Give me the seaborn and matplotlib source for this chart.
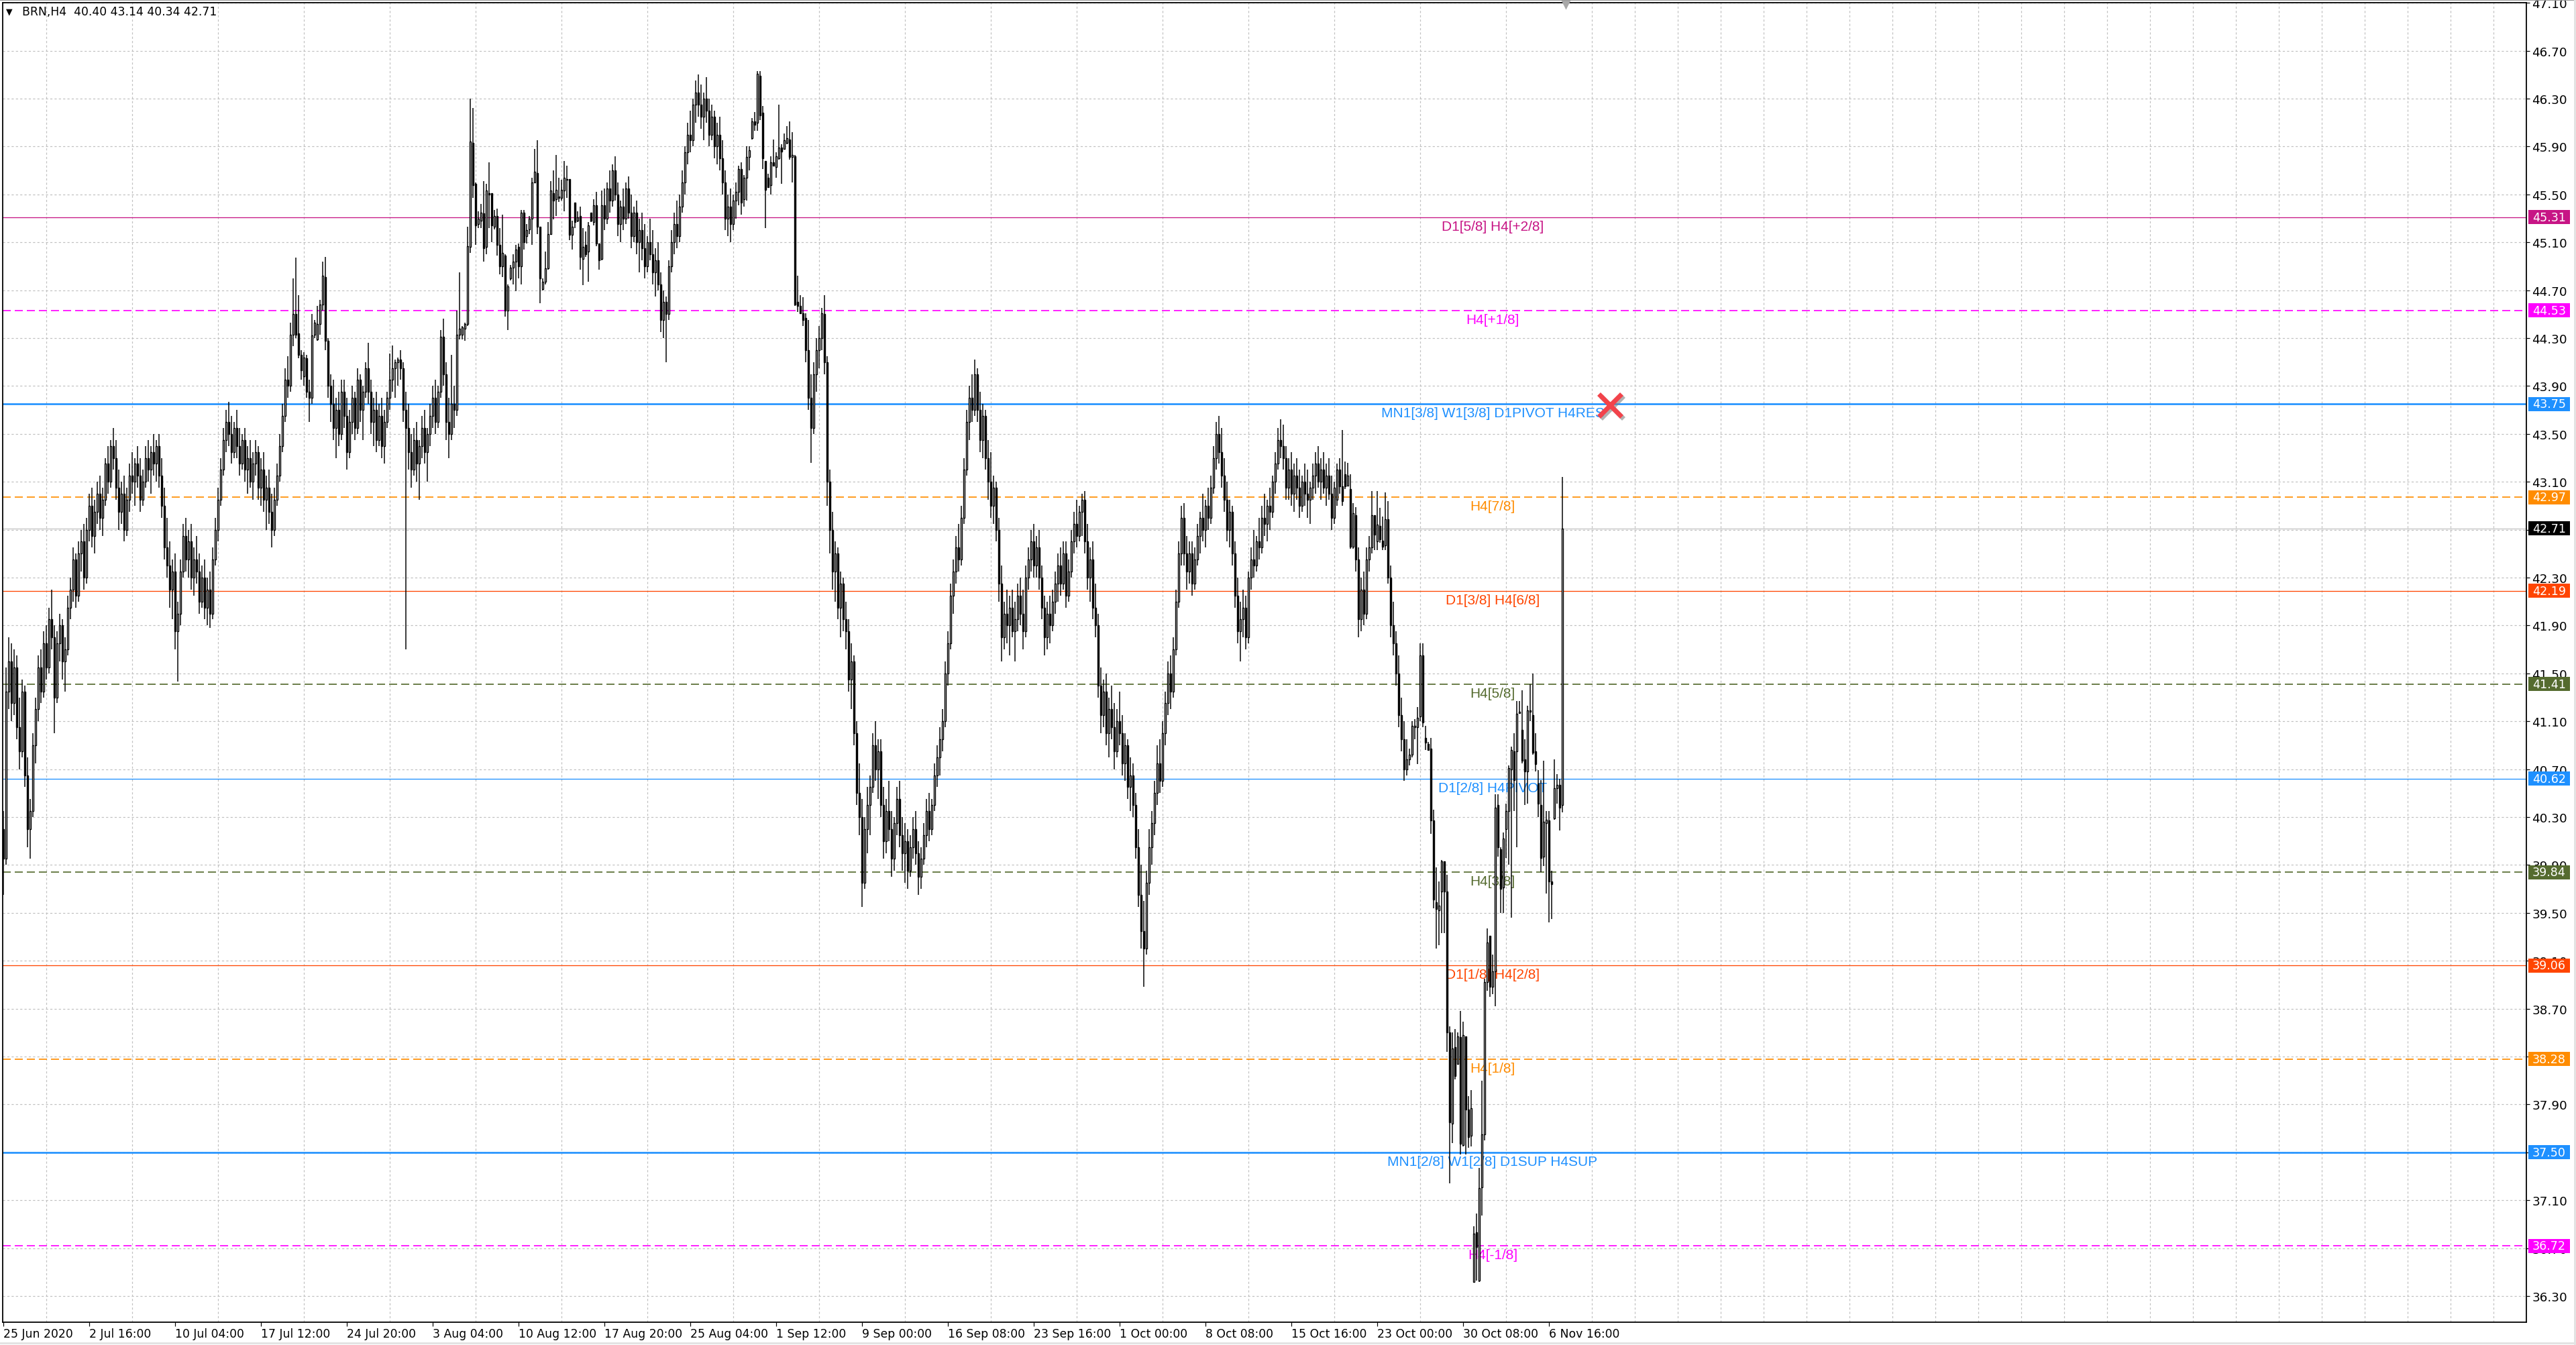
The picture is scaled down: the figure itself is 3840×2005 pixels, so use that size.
import matplotlib
matplotlib.use('Agg')
import numpy as np
import matplotlib.pyplot as plt
import matplotlib.transforms as mtransforms
import matplotlib.patheffects as pe
from matplotlib import font_manager
from matplotlib.patches import Rectangle
from matplotlib.lines import Line2D
import seaborn as sns

# ---------------- data (BRN, H4 bars) ----------------
opens = [
    40.20, 39.95, 41.35, 41.60, 41.25, 41.55, 41.05, 40.85, 41.35, 40.65,
    40.20, 40.35, 40.90, 41.20, 41.55, 41.35, 41.75, 41.55, 41.95, 41.80,
    41.30, 41.75, 41.90, 41.60, 41.70, 42.05, 42.20, 42.45, 42.15, 42.50,
    42.60, 42.30, 42.70, 42.90, 42.65, 42.85, 43.00, 42.80, 42.95, 43.25,
    43.10, 43.40, 43.30, 43.05, 42.85, 43.00, 42.70, 42.95, 43.15, 43.10,
    43.25, 43.15, 42.95, 43.10, 43.30, 43.20, 43.35, 43.25, 43.40, 43.15,
    42.90, 42.55, 42.40, 42.20, 42.35, 41.85, 42.00, 42.35, 42.65, 42.45,
    42.60, 42.30, 42.45, 42.35, 42.10, 42.30, 42.05, 42.20, 42.00, 42.45,
    42.70, 42.95, 43.20, 43.45, 43.60, 43.50, 43.35, 43.55, 43.40, 43.25,
    43.45, 43.20, 43.30, 43.10, 43.25, 43.35, 43.05, 43.20, 42.95, 43.05,
    42.85, 42.70, 42.95, 43.15, 43.40, 43.65, 43.95, 43.90, 44.33, 44.50,
    44.34, 44.16, 43.98, 44.13, 43.85, 43.80, 44.33, 44.29, 44.42, 44.58,
    44.81, 44.28, 43.90, 43.75, 43.55, 43.70, 43.50, 43.85, 43.65, 43.35,
    43.60, 43.80, 43.55, 43.95, 43.70, 43.85, 44.05, 43.85, 43.60, 43.70,
    43.45, 43.65, 43.40, 43.60, 43.80, 43.95, 44.05, 44.10, 44.12, 44.05,
    43.70, 43.55, 43.35, 43.20, 43.45, 43.25, 43.40, 43.55, 43.35, 43.50,
    43.65, 43.80, 43.60, 43.85, 44.31, 44.00, 43.60, 43.50, 43.75, 43.70,
    44.33, 44.33, 44.38, 44.42, 45.06, 45.93, 45.59, 45.25, 45.28, 45.34,
    45.06, 45.51, 45.51, 45.23, 45.32, 45.08, 44.90, 44.99, 44.53, 44.80,
    44.89, 44.94, 45.06, 44.90, 45.35, 45.15, 45.21, 45.30, 45.60, 45.68,
    45.23, 44.71, 44.77, 44.88, 45.17, 45.51, 45.46, 45.48, 45.47, 45.53,
    45.63, 45.63, 45.16, 45.43, 45.28, 45.32, 44.96, 45.08, 45.02, 45.35,
    45.27, 45.41, 45.09, 44.96, 45.41, 45.30, 45.55, 45.45, 45.70, 45.50,
    45.25, 45.40, 45.30, 45.55, 45.35, 45.15, 45.35, 45.10, 45.20, 45.05,
    44.90, 45.10, 45.00, 44.85, 44.95, 44.75, 44.45, 44.60, 44.50, 44.90,
    45.10, 45.25, 45.15, 45.40, 45.60, 45.85, 46.00, 45.95, 46.25, 46.35,
    46.25, 46.15, 46.30, 46.20, 46.00, 46.15, 45.90, 46.00, 45.80, 45.60,
    45.30, 45.40, 45.25, 45.45, 45.52, 45.71, 45.46, 45.64, 45.81, 45.97,
    46.11, 46.10, 46.49, 46.18, 45.78, 45.64, 45.58, 45.77, 45.73, 45.80,
    45.89, 45.88, 45.93, 45.96, 45.81, 45.82, 44.60, 44.57, 44.51, 44.47,
    44.20, 43.80, 43.55, 44.00, 44.20, 44.30, 44.50, 44.10, 43.10, 42.70,
    42.35, 42.50, 42.05, 42.25, 41.95, 41.85, 41.45, 41.60, 41.00, 40.50,
    40.30, 39.75, 40.20, 40.40, 40.55, 40.90, 40.70, 40.85, 40.40, 40.10,
    40.35, 40.20, 39.95, 40.25, 40.45, 40.15, 40.00, 40.10, 39.85, 40.05,
    40.20, 40.00, 39.80, 39.95, 40.15, 40.35, 40.20, 40.40, 40.65, 40.80,
    40.95, 41.10, 41.50, 41.75, 42.15, 42.35, 42.55, 42.45, 42.80, 43.20,
    43.60, 43.80, 43.70, 44.00, 43.70, 43.45, 43.65, 43.30, 43.10, 42.90,
    43.05, 42.70, 42.25, 41.80, 42.00, 41.90, 42.05, 41.85, 41.95, 42.15,
    42.00, 41.85, 42.30, 42.45, 42.60, 42.40, 42.55, 42.30, 42.05, 41.80,
    42.00, 41.90, 42.10, 42.25, 42.40, 42.25, 42.50, 42.15, 42.35, 42.60,
    42.75, 42.65, 42.85, 42.95, 42.60, 42.30, 42.45, 42.05, 41.90, 41.40,
    41.15, 41.35, 41.00, 41.20, 41.05, 40.85, 41.10, 41.00, 40.75, 40.90,
    40.55, 40.65, 40.40, 40.05, 39.65, 39.35, 39.20, 39.75, 40.05, 40.25,
    40.50, 40.75, 40.60, 41.00, 41.25, 41.50, 41.35, 41.70, 42.10, 42.50,
    42.80, 42.50, 42.35, 42.50, 42.25, 42.45, 42.65, 42.80, 42.70, 42.90,
    42.80, 43.05, 43.30, 43.50, 43.35, 43.15, 42.95, 42.70, 42.85, 42.50,
    42.15, 41.85, 41.95, 42.05, 41.80, 42.30, 42.45, 42.40, 42.60, 42.55,
    42.80, 42.75, 42.90, 42.85, 43.10, 43.25, 43.45, 43.40, 43.30, 43.05,
    43.20, 43.00, 43.15, 43.05, 42.90, 43.10, 43.00, 42.95, 43.05, 43.15,
    43.25, 43.10, 43.20, 43.05, 43.15, 43.00, 42.80, 42.95, 43.20, 43.06,
    43.16, 43.07, 43.04, 42.56, 42.82, 42.45, 41.95, 42.20, 42.00, 42.45,
    42.55, 42.82, 42.60, 42.73, 42.61, 42.57, 42.79, 42.30, 41.90, 41.75,
    41.50, 41.15, 40.95, 40.70, 40.78, 40.82, 41.05, 41.05, 41.14, 41.65,
    40.96, 40.91, 40.87, 40.27, 39.59, 39.52, 39.68, 39.93, 39.68, 38.50,
    37.74, 38.38, 38.24, 38.46, 37.56, 38.47, 37.86, 37.64, 36.42, 36.83,
    36.43, 37.21, 37.65, 38.92, 39.31, 38.88, 39.01, 40.40, 40.03, 39.71,
    40.20, 40.35, 40.70, 40.85, 40.85, 41.17, 41.03, 40.78, 40.68, 41.19,
    41.15, 40.85, 40.58, 40.40, 39.97, 40.25, 40.27, 39.76, 40.29, 40.54,
    40.57, 40.40,
]
highs = [
    40.35, 41.55, 41.80, 41.75, 41.70, 41.65, 41.30, 41.45, 41.40, 40.80,
    40.45, 41.00, 41.30, 41.65, 41.70, 41.85, 41.90, 42.05, 42.20, 41.90,
    41.85, 42.00, 41.95, 41.80, 42.15, 42.30, 42.55, 42.50, 42.60, 42.70,
    42.75, 42.80, 43.00, 43.05, 42.95, 43.10, 43.15, 43.05, 43.30, 43.40,
    43.45, 43.55, 43.45, 43.20, 43.10, 43.15, 43.05, 43.25, 43.35, 43.30,
    43.40, 43.30, 43.20, 43.40, 43.45, 43.40, 43.50, 43.45, 43.50, 43.30,
    43.05, 42.80, 42.60, 42.45, 42.50, 42.10, 42.45, 42.75, 42.80, 42.70,
    42.75, 42.55, 42.65, 42.50, 42.40, 42.45, 42.30, 42.35, 42.55, 42.80,
    43.05, 43.30, 43.55, 43.70, 43.77, 43.65, 43.60, 43.70, 43.55, 43.50,
    43.55, 43.40, 43.45, 43.35, 43.45, 43.40, 43.30, 43.35, 43.15, 43.20,
    43.00, 43.05, 43.25, 43.50, 43.75, 44.05, 44.15, 44.43, 44.80, 44.97,
    44.66, 44.20, 44.18, 44.16, 43.95, 44.50, 44.45, 44.57, 44.62, 44.94,
    44.98, 44.30, 44.00, 43.95, 43.80, 43.85, 43.95, 43.95, 43.80, 43.70,
    43.90, 43.85, 44.05, 44.00, 43.90, 44.10, 44.26, 43.95, 43.80, 43.85,
    43.75, 43.80, 43.70, 43.85, 44.17, 44.24, 44.12, 44.14, 44.20, 44.10,
    43.85, 43.75, 43.50, 43.55, 43.60, 43.45, 43.65, 43.70, 43.55, 43.75,
    43.90, 43.95, 43.90, 44.37, 44.46, 44.10, 43.80, 44.16, 43.90, 44.53,
    44.85, 44.40, 44.43, 45.23, 46.30, 46.22, 45.60, 45.36, 45.42, 45.61,
    45.59, 45.77, 45.51, 45.37, 45.38, 45.22, 45.33, 45.00, 44.75, 44.91,
    45.00, 45.08, 45.09, 45.37, 45.37, 45.25, 45.32, 45.64, 45.88, 45.95,
    45.23, 44.80, 45.02, 45.27, 45.61, 45.70, 45.83, 45.64, 45.62, 45.78,
    45.74, 45.63, 45.28, 45.43, 45.36, 45.40, 45.22, 45.19, 45.27, 45.35,
    45.46, 45.52, 45.09, 45.53, 45.55, 45.60, 45.70, 45.75, 45.82, 45.60,
    45.45, 45.55, 45.60, 45.65, 45.50, 45.40, 45.45, 45.30, 45.35, 45.25,
    45.15, 45.30, 45.20, 45.05, 45.10, 44.85, 44.70, 44.65, 44.95, 45.20,
    45.35, 45.45, 45.50, 45.70, 45.90, 46.10, 46.20, 46.30, 46.45, 46.50,
    46.42, 46.35, 46.48, 46.30, 46.25, 46.20, 46.10, 46.15, 45.95, 45.70,
    45.50, 45.55, 45.50, 45.60, 45.74, 45.77, 45.66, 45.90, 45.90, 46.14,
    46.19, 46.53, 46.53, 46.24, 45.78, 45.67, 45.82, 45.96, 45.85, 46.25,
    45.92, 46.01, 46.07, 46.11, 46.02, 45.83, 44.82, 44.66, 44.64, 44.51,
    44.45, 44.00, 44.10, 44.30, 44.40, 44.55, 44.66, 44.15, 43.20, 42.85,
    42.60, 42.55, 42.35, 42.30, 42.10, 41.95, 41.75, 41.65, 41.10, 40.75,
    40.45, 40.30, 40.55, 40.65, 41.00, 41.10, 40.95, 40.95, 40.55, 40.45,
    40.60, 40.35, 40.30, 40.55, 40.60, 40.30, 40.25, 40.20, 40.15, 40.30,
    40.35, 40.10, 40.05, 40.25, 40.45, 40.50, 40.45, 40.75, 40.90, 41.05,
    41.20, 41.60, 41.85, 42.25, 42.45, 42.65, 42.75, 42.90, 43.30, 43.70,
    43.90, 44.00, 44.12, 44.05, 43.85, 43.75, 43.70, 43.45, 43.35, 43.15,
    43.10, 42.80, 42.40, 42.10, 42.20, 42.15, 42.20, 42.10, 42.25, 42.30,
    42.20, 42.40, 42.55, 42.70, 42.75, 42.65, 42.70, 42.40, 42.15, 42.10,
    42.15, 42.20, 42.35, 42.50, 42.55, 42.60, 42.60, 42.45, 42.70, 42.85,
    42.95, 42.90, 43.00, 43.02, 42.75, 42.55, 42.60, 42.25, 42.00, 41.55,
    41.45, 41.50, 41.30, 41.40, 41.25, 41.20, 41.35, 41.15, 41.00, 40.95,
    40.80, 40.75, 40.50, 40.20, 39.90, 39.60, 39.85, 40.20, 40.35, 40.60,
    40.90, 40.95, 41.10, 41.35, 41.60, 41.65, 41.80, 42.20, 42.60, 42.90,
    42.92, 42.65, 42.60, 42.60, 42.55, 42.75, 42.85, 43.00, 42.95, 43.05,
    43.15, 43.40, 43.60, 43.65, 43.55, 43.30, 43.10, 42.95, 42.90, 42.60,
    42.30, 42.10, 42.20, 42.15, 42.35, 42.55, 42.70, 42.65, 42.80, 42.90,
    43.00, 42.95, 43.05, 43.15, 43.35, 43.55, 43.62, 43.58, 43.40, 43.30,
    43.35, 43.25, 43.30, 43.20, 43.15, 43.25, 43.20, 43.10, 43.25, 43.35,
    43.40, 43.30, 43.35, 43.25, 43.30, 43.15, 43.10, 43.25, 43.30, 43.53,
    43.27, 43.26, 43.16, 42.92, 42.89, 42.55, 42.30, 42.35, 42.55, 42.65,
    43.02, 42.82, 43.02, 42.88, 42.81, 43.01, 42.94, 42.40, 42.10, 41.85,
    41.65, 41.30, 41.10, 40.95, 40.87, 41.10, 41.12, 41.22, 41.75, 41.75,
    41.06, 40.93, 40.96, 40.36, 39.88, 39.76, 39.94, 39.93, 39.82, 38.55,
    38.50, 38.53, 38.50, 38.68, 38.59, 38.47, 37.97, 38.02, 36.88, 36.99,
    37.37, 38.10, 38.95, 39.37, 39.31, 39.15, 40.49, 40.49, 40.05, 40.17,
    40.41, 40.73, 40.89, 41.00, 41.27, 41.27, 41.36, 40.95, 41.23, 41.41,
    41.50, 41.00, 40.69, 40.61, 40.77, 40.35, 40.35, 39.85, 40.78, 40.66,
    40.62, 43.14,
]
lows = [
    39.65, 39.90, 41.20, 41.10, 41.15, 40.95, 40.70, 40.80, 40.55, 40.05,
    39.95, 40.30, 40.75, 41.10, 41.25, 41.30, 41.45, 41.50, 41.70, 41.00,
    41.25, 41.60, 41.45, 41.35, 41.65, 41.95, 42.10, 42.05, 42.10, 42.35,
    42.20, 42.25, 42.60, 42.55, 42.50, 42.75, 42.70, 42.65, 42.90, 43.00,
    43.05, 43.20, 42.95, 42.70, 42.75, 42.60, 42.65, 42.85, 43.00, 42.90,
    43.05, 42.85, 42.90, 43.05, 43.10, 43.00, 43.15, 43.10, 43.05, 42.80,
    42.45, 42.30, 42.05, 41.95, 41.70, 41.43, 41.90, 42.30, 42.35, 42.30,
    42.20, 42.15, 42.25, 42.00, 42.05, 41.95, 41.90, 41.88, 41.95, 42.40,
    42.60, 42.90, 43.15, 43.35, 43.40, 43.25, 43.30, 43.30, 43.15, 43.20,
    43.10, 43.00, 43.05, 42.95, 43.15, 42.95, 42.90, 42.85, 42.70, 42.75,
    42.55, 42.65, 42.90, 43.10, 43.35, 43.60, 43.80, 43.85, 44.23, 44.30,
    44.13, 43.95, 43.90, 43.80, 43.60, 43.75, 44.30, 44.28, 44.33, 44.53,
    44.20, 43.80, 43.60, 43.45, 43.30, 43.40, 43.45, 43.55, 43.20, 43.30,
    43.50, 43.45, 43.50, 43.60, 43.45, 43.80, 43.75, 43.50, 43.40, 43.35,
    43.40, 43.30, 43.25, 43.55, 43.70, 43.85, 43.80, 43.90, 43.95, 43.60,
    41.70, 43.20, 43.05, 43.15, 43.10, 42.95, 43.30, 43.25, 43.10, 43.40,
    43.55, 43.50, 43.55, 43.80, 43.90, 43.45, 43.30, 43.45, 43.55, 43.65,
    44.29, 44.29, 44.28, 44.40, 45.01, 45.47, 45.08, 45.22, 45.22, 44.94,
    45.00, 45.22, 45.10, 45.21, 44.99, 44.83, 44.81, 44.48, 44.37, 44.78,
    44.75, 44.69, 44.80, 44.75, 45.04, 45.09, 45.17, 45.08, 45.60, 45.17,
    44.59, 44.70, 44.75, 44.87, 45.16, 45.29, 45.32, 45.44, 45.45, 45.36,
    45.47, 45.12, 45.04, 45.22, 45.27, 44.87, 44.74, 44.98, 44.77, 45.27,
    45.24, 45.07, 44.87, 44.95, 45.20, 45.25, 45.35, 45.40, 45.45, 45.15,
    45.10, 45.20, 45.25, 45.30, 45.05, 45.10, 45.00, 44.85, 44.95, 44.80,
    44.85, 44.95, 44.75, 44.65, 44.70, 44.35, 44.30, 44.10, 44.45, 44.85,
    45.00, 45.05, 45.10, 45.35, 45.50, 45.75, 45.85, 45.90, 46.10, 46.15,
    46.05, 45.95, 46.10, 45.90, 45.95, 45.80, 45.75, 45.70, 45.50, 45.20,
    45.15, 45.10, 45.20, 45.30, 45.41, 45.33, 45.40, 45.45, 45.70, 45.96,
    46.03, 46.03, 46.12, 45.71, 45.22, 45.56, 45.50, 45.74, 45.64, 45.79,
    45.59, 45.88, 45.92, 45.79, 45.60, 44.57, 44.52, 44.50, 44.40, 44.10,
    43.70, 43.26, 43.50, 43.85, 44.05, 44.20, 44.00, 42.90, 42.50, 42.20,
    42.10, 41.95, 41.80, 41.85, 41.70, 41.35, 41.20, 40.90, 40.40, 40.15,
    39.55, 39.70, 40.00, 40.15, 40.50, 40.60, 40.45, 40.30, 39.95, 40.00,
    40.10, 39.80, 39.85, 40.15, 40.05, 39.85, 39.75, 39.70, 39.80, 39.95,
    39.90, 39.65, 39.70, 39.90, 40.05, 40.10, 40.15, 40.35, 40.55, 40.65,
    40.85, 41.05, 41.40, 41.70, 42.00, 42.25, 42.35, 42.40, 42.75, 43.15,
    43.45, 43.60, 43.65, 43.60, 43.35, 43.30, 43.20, 42.95, 42.80, 42.75,
    42.60, 42.10, 41.60, 41.70, 41.75, 41.65, 41.80, 41.60, 41.85, 41.90,
    41.70, 41.80, 42.20, 42.35, 42.30, 42.30, 42.20, 41.95, 41.65, 41.70,
    41.75, 41.85, 42.00, 42.10, 42.15, 42.20, 42.05, 42.10, 42.30, 42.50,
    42.55, 42.60, 42.65, 42.50, 42.20, 42.10, 41.95, 41.80, 41.30, 41.00,
    41.05, 40.90, 40.80, 40.95, 40.70, 40.80, 40.90, 40.65, 40.60, 40.45,
    40.35, 40.30, 39.95, 39.55, 39.20, 38.88, 39.15, 39.65, 39.90, 40.15,
    40.40, 40.50, 40.55, 40.90, 41.15, 41.20, 41.30, 41.65, 42.05, 42.40,
    42.40, 42.20, 42.25, 42.15, 42.20, 42.40, 42.50, 42.60, 42.55, 42.70,
    42.75, 43.00, 43.20, 43.25, 43.05, 42.85, 42.60, 42.55, 42.40, 42.05,
    41.75, 41.60, 41.80, 41.70, 41.75, 42.20, 42.30, 42.35, 42.45, 42.50,
    42.65, 42.60, 42.70, 42.80, 43.00, 43.20, 43.30, 43.20, 42.95, 42.95,
    42.90, 42.85, 42.95, 42.80, 42.85, 42.90, 42.80, 42.75, 42.95, 43.00,
    43.05, 42.95, 43.00, 42.90, 42.95, 42.70, 42.75, 42.90, 43.00, 42.90,
    43.04, 43.06, 42.54, 42.54, 42.35, 41.80, 41.85, 41.90, 41.95, 42.35,
    42.50, 42.53, 42.53, 42.59, 42.53, 42.53, 42.25, 41.80, 41.65, 41.40,
    41.05, 40.85, 40.60, 40.65, 40.73, 40.80, 40.95, 40.74, 41.10, 41.05,
    40.86, 40.86, 40.16, 39.54, 39.20, 39.23, 39.33, 39.33, 38.34, 37.24,
    37.58, 38.11, 38.23, 37.48, 37.55, 37.48, 37.54, 37.55, 36.41, 36.43,
    36.42, 36.97, 37.60, 38.85, 38.80, 38.82, 38.72, 39.97, 39.50, 39.50,
    39.96, 39.90, 39.46, 40.35, 40.05, 41.16, 40.75, 40.40, 40.41, 41.10,
    40.82, 40.68, 40.30, 39.84, 39.89, 39.66, 39.42, 39.45, 40.28, 40.41,
    40.19, 40.34,
]
closes = [
    39.95, 41.35, 41.60, 41.25, 41.55, 41.05, 40.85, 41.35, 40.65, 40.20,
    40.35, 40.90, 41.20, 41.55, 41.35, 41.75, 41.55, 41.95, 41.80, 41.30,
    41.75, 41.90, 41.60, 41.70, 42.05, 42.20, 42.45, 42.15, 42.50, 42.60,
    42.30, 42.70, 42.90, 42.65, 42.85, 43.00, 42.80, 42.95, 43.25, 43.10,
    43.40, 43.30, 43.05, 42.85, 43.00, 42.70, 42.95, 43.15, 43.10, 43.25,
    43.15, 42.95, 43.10, 43.30, 43.20, 43.35, 43.25, 43.40, 43.15, 42.90,
    42.55, 42.40, 42.20, 42.35, 41.85, 42.00, 42.35, 42.65, 42.45, 42.60,
    42.30, 42.45, 42.35, 42.10, 42.30, 42.05, 42.20, 42.00, 42.45, 42.70,
    42.95, 43.20, 43.45, 43.60, 43.50, 43.35, 43.55, 43.40, 43.25, 43.45,
    43.20, 43.30, 43.10, 43.25, 43.35, 43.05, 43.20, 42.95, 43.05, 42.85,
    42.70, 42.95, 43.15, 43.40, 43.65, 43.95, 43.90, 44.33, 44.50, 44.33,
    44.16, 44.03, 44.14, 43.85, 43.80, 44.32, 44.43, 44.42, 44.58, 44.82,
    44.28, 43.90, 43.75, 43.55, 43.70, 43.50, 43.85, 43.65, 43.35, 43.60,
    43.80, 43.55, 43.95, 43.70, 43.85, 44.05, 43.85, 43.60, 43.70, 43.45,
    43.65, 43.40, 43.60, 43.80, 43.95, 44.05, 44.10, 44.12, 44.05, 43.70,
    43.55, 43.35, 43.20, 43.45, 43.25, 43.40, 43.55, 43.35, 43.50, 43.65,
    43.80, 43.60, 43.85, 44.31, 44.00, 43.60, 43.50, 43.75, 43.70, 44.33,
    44.38, 44.39, 44.42, 45.07, 45.94, 45.58, 45.24, 45.30, 45.35, 45.05,
    45.53, 45.50, 45.24, 45.32, 45.08, 44.90, 45.01, 44.53, 44.73, 44.89,
    44.94, 45.04, 44.90, 45.35, 45.10, 45.20, 45.30, 45.60, 45.69, 45.23,
    44.80, 44.77, 44.88, 45.17, 45.53, 45.45, 45.54, 45.47, 45.54, 45.64,
    45.62, 45.16, 45.23, 45.27, 45.31, 44.98, 45.06, 45.00, 45.24, 45.28,
    45.41, 45.09, 44.95, 45.41, 45.30, 45.55, 45.45, 45.70, 45.50, 45.25,
    45.40, 45.30, 45.55, 45.35, 45.15, 45.35, 45.10, 45.20, 45.05, 44.90,
    45.10, 45.00, 44.85, 44.95, 44.75, 44.45, 44.60, 44.50, 44.90, 45.10,
    45.25, 45.15, 45.40, 45.60, 45.85, 46.00, 45.95, 46.25, 46.35, 46.25,
    46.15, 46.30, 46.20, 46.00, 46.15, 45.90, 46.00, 45.80, 45.60, 45.30,
    45.40, 45.25, 45.45, 45.52, 45.71, 45.43, 45.64, 45.81, 45.87, 46.11,
    46.08, 46.51, 46.16, 45.80, 45.54, 45.56, 45.77, 45.74, 45.82, 45.89,
    45.86, 45.95, 45.97, 45.81, 45.83, 44.58, 44.57, 44.51, 44.45, 44.20,
    43.80, 43.55, 44.00, 44.20, 44.30, 44.51, 44.10, 43.10, 42.70, 42.35,
    42.50, 42.05, 42.25, 41.95, 41.85, 41.45, 41.60, 41.00, 40.50, 40.30,
    39.75, 40.20, 40.40, 40.55, 40.90, 40.70, 40.85, 40.40, 40.10, 40.35,
    40.20, 39.95, 40.25, 40.45, 40.15, 40.00, 40.10, 39.85, 40.05, 40.20,
    40.00, 39.80, 39.95, 40.15, 40.35, 40.20, 40.40, 40.65, 40.80, 40.95,
    41.10, 41.50, 41.75, 42.15, 42.35, 42.55, 42.45, 42.80, 43.20, 43.60,
    43.80, 43.70, 44.00, 43.70, 43.45, 43.65, 43.30, 43.10, 42.90, 43.05,
    42.70, 42.25, 41.80, 42.00, 41.90, 42.05, 41.85, 41.95, 42.15, 42.00,
    41.85, 42.30, 42.45, 42.60, 42.40, 42.55, 42.30, 42.05, 41.80, 42.00,
    41.90, 42.10, 42.25, 42.40, 42.25, 42.50, 42.15, 42.35, 42.60, 42.75,
    42.65, 42.85, 42.95, 42.60, 42.30, 42.45, 42.05, 41.90, 41.40, 41.15,
    41.35, 41.00, 41.20, 41.05, 40.85, 41.10, 41.00, 40.75, 40.90, 40.55,
    40.65, 40.40, 40.05, 39.65, 39.35, 39.20, 39.75, 40.05, 40.25, 40.50,
    40.75, 40.60, 41.00, 41.25, 41.50, 41.35, 41.70, 42.10, 42.50, 42.80,
    42.50, 42.35, 42.50, 42.25, 42.45, 42.65, 42.80, 42.70, 42.90, 42.80,
    43.05, 43.30, 43.50, 43.35, 43.15, 42.95, 42.70, 42.85, 42.50, 42.15,
    41.85, 41.95, 42.05, 41.80, 42.30, 42.45, 42.40, 42.60, 42.55, 42.80,
    42.75, 42.90, 42.85, 43.10, 43.25, 43.45, 43.40, 43.30, 43.05, 43.20,
    43.00, 43.15, 43.05, 42.90, 43.10, 43.00, 42.95, 43.05, 43.15, 43.25,
    43.10, 43.20, 43.05, 43.15, 43.00, 42.80, 43.05, 43.20, 43.06, 42.94,
    43.06, 43.15, 42.56, 42.84, 42.45, 41.95, 42.20, 42.00, 42.45, 42.55,
    42.82, 42.66, 42.74, 42.62, 42.56, 42.79, 42.30, 41.90, 41.75, 41.50,
    41.15, 40.95, 40.70, 40.78, 40.82, 41.06, 41.06, 41.13, 41.65, 41.09,
    40.92, 40.86, 40.27, 39.61, 39.53, 39.56, 39.93, 39.68, 38.50, 37.75,
    38.37, 38.14, 38.47, 37.57, 38.48, 37.86, 37.63, 37.87, 36.82, 36.71,
    37.20, 37.65, 38.92, 39.25, 38.88, 39.01, 40.38, 40.05, 39.70, 40.12,
    40.35, 40.71, 40.86, 40.61, 41.16, 41.18, 40.77, 40.68, 41.19, 41.18,
    40.84, 40.74, 40.41, 39.96, 40.26, 40.28, 39.76, 39.74, 40.54, 40.57,
    40.38, 42.71,
]

time_tick_bars = [0, 32, 64, 96, 128, 160, 192, 224, 256, 288, 320, 352,
                  384, 416, 448, 480, 512, 544, 576]
time_tick_labels = ["25 Jun 2020", "2 Jul 16:00", "10 Jul 04:00", "17 Jul 12:00",
                    "24 Jul 20:00", "3 Aug 04:00", "10 Aug 12:00", "17 Aug 20:00",
                    "25 Aug 04:00", "1 Sep 12:00", "9 Sep 00:00", "16 Sep 08:00",
                    "23 Sep 16:00", "1 Oct 00:00", "8 Oct 08:00", "15 Oct 16:00",
                    "23 Oct 00:00", "30 Oct 08:00", "6 Nov 16:00"]
price_ticks = [36.30, 36.70, 37.10, 37.50, 37.90, 38.30, 38.70, 39.10, 39.50, 39.90,
               40.30, 40.70, 41.10, 41.50, 41.90, 42.30, 42.70, 43.10, 43.50, 43.90,
               44.30, 44.70, 45.10, 45.50, 45.90, 46.30, 46.70, 47.10]

level_prices = [45.31, 44.53, 43.75, 42.97, 42.19, 41.41, 40.62, 39.84, 39.06, 38.28, 37.50, 36.72]
level_names = ["D1[5/8] H4[+2/8]", "H4[+1/8]", "MN1[3/8] W1[3/8] D1PIVOT H4RES", "H4[7/8]",
               "D1[3/8] H4[6/8]", "H4[5/8]", "D1[2/8] H4PIVOT", "H4[3/8]",
               "D1[1/8] H4[2/8]", "H4[1/8]", "MN1[2/8] W1[2/8] D1SUP H4SUP", "H4[-1/8]"]
bid_price = 42.71
header_text = "BRN,H4  40.40 43.14 40.34 42.71"

# ---------------- styling ----------------
level_colors = ['#C71585', '#FF00FF', '#1E90FF', '#FF8C00', '#FF4500', '#556B2F',
                '#1E90FF', '#556B2F', '#FF4500', '#FF8C00', '#1E90FF', '#FF00FF']
level_kinds = ['solid', 'dash', 'thick', 'dash', 'solid', 'dash',
               'solid', 'dash', 'solid', 'dash', 'thick', 'dash']

sns.set_theme(style="white")


def has_font(name):
    try:
        font_manager.findfont(font_manager.FontProperties(family=name), fallback_to_default=False)
        return True
    except Exception:
        return False


if has_font('Liberation Sans Narrow'):
    small_font, small_size = ['Liberation Sans Narrow', 'DejaVu Sans'], 8.2
else:
    small_font, small_size = ['DejaVu Sans'], 6.2
label_font = ['Liberation Sans', 'DejaVu Sans']

plt.rcParams['font.family'] = ['DejaVu Sans']
plt.rcParams['lines.scale_dashes'] = False

W, H, DPI = 3840, 2006, 200
PT = 72.0 / DPI  # one pixel in points

fig = plt.figure(figsize=(W / DPI, H / DPI), dpi=DPI, facecolor='white')
left, right, top, bottom = 4, 3766, 5, 1972
ax = fig.add_axes([left / W, 1 - bottom / H, (right - left) / W, (bottom - top) / H])
ax.set_facecolor('white')

px_per_unit = 178.5


def price_at(ypix):
    return 36.30 + (1933 - ypix) / px_per_unit


ax.set_ylim(price_at(bottom), price_at(top))
ax.set_xlim(-0.25, -0.25 + (right - left) / 4.0)

# axes, ticks and grid
for s in ax.spines.values():
    s.set_color('black')
    s.set_linewidth(1.8 * PT)

ax.set_axisbelow(True)
ax.set_xticks(np.arange(0, 941, 16), minor=True)
ax.set_xticks(time_tick_bars, labels=time_tick_labels, ha='left',
              family=small_font, fontsize=small_size)
ax.set_yticks(price_ticks, labels=[f"{p:.2f}" for p in price_ticks], fontsize=6.6)
ax.yaxis.tick_right()
ax.tick_params(axis='y', which='major', direction='out', length=5 * PT, width=1.2 * PT,
               pad=3.5 * PT, right=True, left=False, labelright=True, labelleft=False,
               colors='black')
ax.tick_params(axis='x', which='major', direction='out', length=6 * PT, width=1.2 * PT,
               pad=2 * PT, bottom=True, colors='black')
ax.tick_params(axis='x', which='minor', length=0, bottom=False)

grid_style = dict(color='#C0C0C0', linewidth=1.2 * PT, linestyle=(0, (3.2 * PT, 3.2 * PT)))
ax.xaxis.grid(True, which='minor', **grid_style)
ax.xaxis.grid(False, which='major')
ax.yaxis.grid(True, which='major', **grid_style)

# level lines and their labels
label_bar = 555
for price, name, color, kind in zip(level_prices, level_names, level_colors, level_kinds):
    if kind == 'dash':
        ax.axhline(price, color=color, linewidth=1.7 * PT,
                   linestyle=(0, (12 * PT, 6 * PT)), zorder=1.5)
    else:
        ax.axhline(price, color=color, linewidth=(2.6 if kind == 'thick' else 1.3) * PT,
                   linestyle='-', zorder=1.5)
    ax.annotate(name, xy=(label_bar, price), xytext=(0, -13.5 * PT),
                textcoords='offset points', ha='center', va='center',
                color=color, fontsize=7.5, family=label_font, zorder=1.8)

ax.axhline(bid_price, color='#C0C0C0', linewidth=1.2 * PT, zorder=1.4)

# candles
o = np.asarray(opens)
c = np.asarray(closes)
hi = np.maximum.reduce([np.asarray(highs), o, c])
lo = np.minimum.reduce([np.asarray(lows), o, c])
x = np.arange(len(c))
ax.vlines(x, lo, hi, colors='black', linewidth=1.5 * PT, zorder=3)
up = c >= o
body_bottom = np.minimum(o, c)
body_h = np.maximum(np.abs(c - o), 0.008)
ax.bar(x, body_h, bottom=body_bottom, width=0.55,
       color=np.where(up, 'white', 'black'), edgecolor='black',
       linewidth=1.4 * PT, zorder=4)

# price boxes on the right scale
trans = mtransforms.blended_transform_factory(ax.transAxes, ax.transData)
span = float(right - left)
box_x0 = (3769 - left) / span
box_w = 62 / span
box_h = 21 / px_per_unit
for price, color in zip(level_prices + [bid_price], level_colors + ['black']):
    ax.add_patch(Rectangle((box_x0, price - box_h / 2), box_w, box_h, transform=trans,
                           facecolor=color, edgecolor='none', clip_on=False, zorder=10))
    ax.text(box_x0 + 31 / span, price, f"{price:.2f}", transform=trans, ha='center',
            va='center', color='white', fontsize=6.3, clip_on=False, zorder=11)

# chart objects: red delete cross and chart-shift marker
ax.plot([598.75], [43.74], marker='x', markersize=34 * PT, markeredgewidth=7 * PT,
        color='#F2434B', linestyle='none', zorder=12,
        path_effects=[pe.SimpleLineShadow(offset=(1.2, -1.2), shadow_color='#808080', alpha=0.6),
                      pe.Normal()])
top_trans = mtransforms.blended_transform_factory(ax.transData, ax.transAxes)
ax.plot([582.25], [1.0], transform=top_trans, marker='v', markersize=14 * PT,
        color='#A8A8A8', linestyle='none', clip_on=False, zorder=12)

# header
fig.text(9 / W, 1 - 18 / H, '\u25BC', fontsize=4.5, family='DejaVu Sans',
         va='center', ha='left', color='black')
fig.text(33 / W, 1 - 18 / H, header_text, fontsize=small_size, family=small_font,
         va='center', ha='left', color='black')

# window frame
fig.add_artist(Line2D([0, 1], [1 - 1 / H, 1 - 1 / H], transform=fig.transFigure,
                      color='#9A9A9A', linewidth=2 * PT))
fig.add_artist(Line2D([0, 1], [3 / H, 3 / H], transform=fig.transFigure,
                      color='#E3E3E3', linewidth=3 * PT))
fig.add_artist(Line2D([1 - 2 / W, 1 - 2 / W], [0, 1], transform=fig.transFigure,
                      color='#E3E3E3', linewidth=3 * PT))

fig.savefig('out.png', dpi=DPI, facecolor='white')
